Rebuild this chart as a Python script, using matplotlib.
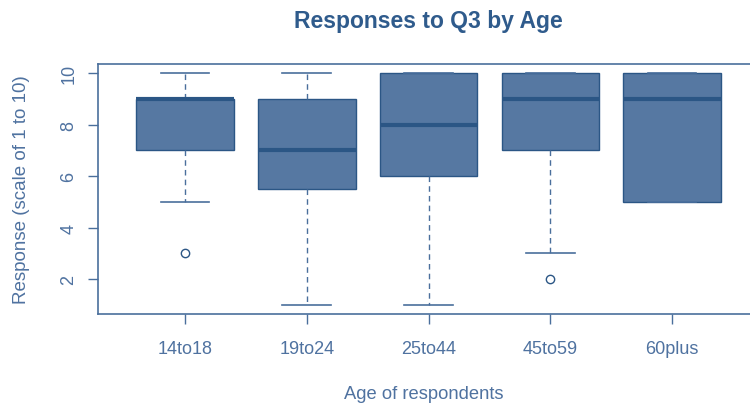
import matplotlib
matplotlib.use("Agg")
import matplotlib.pyplot as plt

# Data (box statistics per age group)
groups = ["14to18", "19to24", "25to44", "45to59", "60plus"]
whisker_low = [5, 1, 1, 3, 5]
q1 = [7, 5.5, 6, 7, 5]
median = [9, 7, 8, 9, 9]
q3 = [9, 9, 10, 10, 10]
whisker_high = [10, 10, 10, 10, 10]
outliers = [[3], [], [], [2], []]

fill = "#5678a2"
med_col = "#2b5685"
axis_col = "#4a6f9c"
text_col = "#4f72a0"

plt.rcParams["font.family"] = ["Liberation Sans", "DejaVu Sans"]

fig = plt.figure(figsize=(7.5, 4.06), dpi=100)
ax = fig.add_axes([98 / 750, 91 / 406, 652 / 750, 250 / 406])

stats = []
for i, g in enumerate(groups):
    stats.append(dict(label=g, whislo=whisker_low[i], q1=q1[i], med=median[i],
                      q3=q3[i], whishi=whisker_high[i], fliers=outliers[i]))

ax.bxp(stats, positions=range(1, len(groups) + 1), widths=0.8,
       patch_artist=True, showfliers=True,
       boxprops=dict(facecolor=fill, edgecolor=med_col, linewidth=1.0),
       medianprops=dict(color=med_col, linewidth=3, solid_capstyle="butt"),
       whiskerprops=dict(color=axis_col, linestyle=(0, (4, 3)), linewidth=1.0),
       capprops=dict(color=axis_col, linewidth=1.2),
       capwidths=0.4,
       flierprops=dict(marker="o", markerfacecolor="white", markeredgecolor=med_col,
                       markersize=6, markeredgewidth=1.0))

ax.set_xlim(0.285, 5.64)
ax.set_ylim(0.64, 10.36)
ax.set_yticks([2, 4, 6, 8, 10])

for side in ["left", "bottom", "top", "right"]:
    ax.spines[side].set_color(axis_col)
    ax.spines[side].set_linewidth(1.2)
ax.spines["right"].set_visible(False)

ax.tick_params(axis="both", colors=axis_col, length=7, width=1.0,
               labelcolor=text_col, labelsize=13)
ax.tick_params(axis="x", pad=12)
ax.tick_params(axis="y", pad=8)
for lab in ax.get_yticklabels():
    lab.set_rotation(90)
    lab.set_va("center")

ax.set_xlabel("Age of respondents", fontsize=13.2, color=text_col, labelpad=20)
ax.set_ylabel("Response (scale of 1 to 10)", fontsize=13.5, color=text_col, labelpad=22)
fig.text(0.571, 0.948, "Responses to Q3 by Age", ha="center", va="center",
         fontsize=16.5, fontweight="bold", color="#2f5b8c")

fig.savefig("out.png", dpi=100)
